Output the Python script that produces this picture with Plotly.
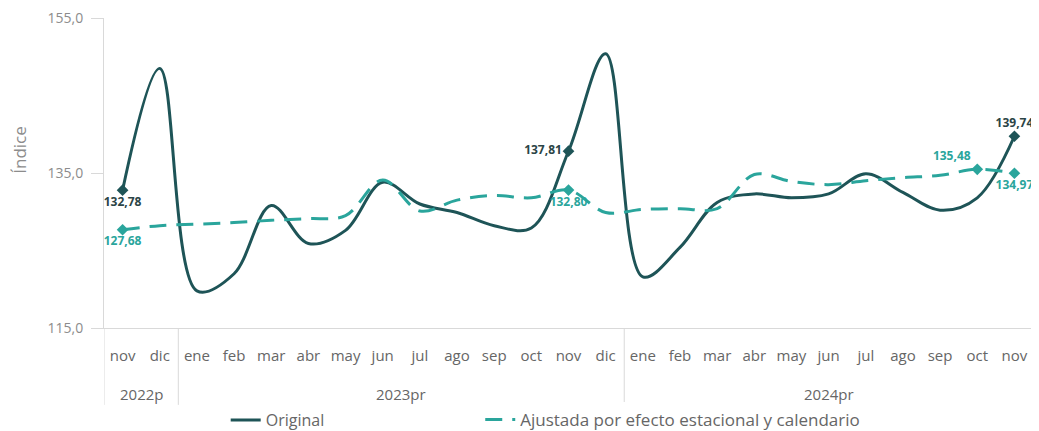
import plotly.graph_objects as go

years = ["2022p"] * 2 + ["2023pr"] * 12 + ["2024pr"] * 11
months = ["nov", "dic",
          "ene", "feb", "mar", "abr", "may", "jun", "jul", "ago", "sep", "oct", "nov", "dic",
          "ene", "feb", "mar", "abr", "may", "jun", "jul", "ago", "sep", "oct", "nov"]

original = [132.78, 148.5,
            119.8, 122.0, 130.8, 125.9, 127.6, 133.8, 131.0, 129.9, 128.2, 127.9, 137.81, 150.4,
            121.6, 125.4, 131.2, 132.3, 131.8, 132.3, 134.9, 132.5, 130.2, 131.8, 139.74]

ajustada = [127.68, 128.2,
            128.4, 128.6, 128.9, 129.1, 129.5, 134.1, 130.1, 131.5, 132.1, 131.8, 132.80, 129.9,
            130.3, 130.4, 130.4, 134.8, 133.9, 133.5, 134.0, 134.4, 134.7, 135.48, 134.97]

orig_label_idx = [0, 12, 24]
orig_label_pos = ["bottom center", "middle left", "top center"]
adj_label_idx = [0, 12, 23, 24]
adj_label_pos = ["bottom center", "bottom center", "top left", "bottom center"]

y_title = "Índice"
name_orig = "Original"
name_adj = "Ajustada por efecto estacional y calendario"

DARK = "#1e5457"
TEAL = "#2aa59c"
GRID = "#d9d9d9"
FONT = "Open Sans"

# the page body has an 8px default margin, so the figure is 8px smaller than the window
W, H = 1031, 423


def fmt(v):
    return f"{v:.2f}".replace(".", ",")


idx = list(range(len(months)))

groups = []
for i, yv in enumerate(years):
    if not groups or groups[-1][0] != yv:
        groups.append([yv, i, i])
    else:
        groups[-1][2] = i

fig = go.Figure()

fig.add_trace(go.Scatter(
    x=idx, y=original, mode="lines", name=name_orig, legend="legend",
    line=dict(color=DARK, width=3, shape="spline", smoothing=1.0),
))
fig.add_trace(go.Scatter(
    x=idx, y=ajustada, mode="lines", name=name_adj, legend="legend2",
    line=dict(color=TEAL, width=3, shape="spline", smoothing=1.0, dash="17px,10px"),
))

fig.add_trace(go.Scatter(
    x=[idx[i] for i in orig_label_idx],
    y=[original[i] for i in orig_label_idx],
    mode="markers+text", showlegend=False,
    marker=dict(symbol="diamond", size=9, color=DARK),
    text=[fmt(original[i]) for i in orig_label_idx],
    textposition=orig_label_pos,
    textfont=dict(family=FONT, size=12, color="#2b4446", weight="bold"),
    cliponaxis=False,
))
fig.add_trace(go.Scatter(
    x=[idx[i] for i in adj_label_idx],
    y=[ajustada[i] for i in adj_label_idx],
    mode="markers+text", showlegend=False,
    marker=dict(symbol="diamond", size=9, color=TEAL),
    text=[fmt(ajustada[i]) for i in adj_label_idx],
    textposition=adj_label_pos,
    textfont=dict(family=FONT, size=12, color=TEAL, weight="bold"),
    cliponaxis=False,
))

for name, a, b in groups:
    fig.add_annotation(
        text=name, x=(a + b) / 2, xref="x", y=-0.213, yref="paper",
        showarrow=False, xanchor="center", yanchor="middle",
        font=dict(family=FONT, size=15, color="#666666"),
    )
bounds = [groups[0][1] - 0.5] + [g[2] + 0.5 for g in groups]
for bx in bounds:
    fig.add_shape(type="line", xref="x", yref="paper", x0=bx, x1=bx, y0=0, y1=-0.248,
                  line=dict(color=GRID, width=1))

fig.add_annotation(
    text=y_title, textangle=-90, xref="paper", yref="paper",
    x=-0.0904, y=0.575, xanchor="center", yanchor="middle", showarrow=False,
    font=dict(family=FONT, size=17, color="#8c8c8c"),
)

fig.update_layout(
    width=W, height=H,
    margin=dict(l=96, r=6, t=10, b=103, autoexpand=False),
    paper_bgcolor="white", plot_bgcolor="white",
    separators=",.",
    font=dict(family=FONT, size=15, color="#666666"),
    showlegend=True,
    legend=dict(orientation="h", x=0.131, xanchor="left", yref="container",
                y=0.026, yanchor="middle",
                font=dict(family=FONT, size=16, color="#666666")),
    legend2=dict(orientation="h", x=0.405, xanchor="left", yref="container",
                 y=0.026, yanchor="middle",
                 font=dict(family=FONT, size=17, color="#666666")),
    xaxis=dict(
        range=[-0.5, len(months) - 0.5], tickmode="array", tickvals=idx, ticktext=months,
        showline=True, linecolor=GRID, linewidth=1, showgrid=False, zeroline=False,
        ticks="", ticklabelstandoff=14, automargin=False,
        tickfont=dict(family=FONT, size=15, color="#666666"),
    ),
    yaxis=dict(
        range=[115, 155], dtick=20, tick0=115, tickformat=".1f",
        showline=True, linecolor=GRID, linewidth=1, showgrid=False,
        zeroline=False, ticks="outside", ticklen=12, tickcolor=GRID,
        ticklabelstandoff=5, automargin=False, ticklabeloverflow="allow",
        tickfont=dict(family=FONT, size=14, color="#8c8c8c"),
    ),
)

fig.write_html("out.html")
